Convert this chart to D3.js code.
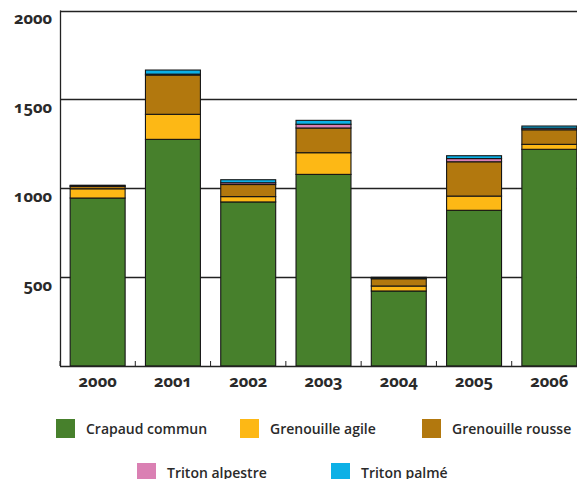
<!DOCTYPE html>
<html>
<head>
<meta charset="utf-8">
<script src="https://cdn.jsdelivr.net/npm/d3@7"></script>
<style>
  html, body { margin: 0; padding: 0; background: #fff; }
  svg { display: block; font-family: "Open Sans", "Noto Sans", sans-serif; font-variant-numeric: oldstyle-nums; }
</style>
</head>
<body>
<svg id="chart" width="577" height="479"></svg>
<script>
// Amphibian counts per year, stacked by species
const years = ["2000", "2001", "2002", "2003", "2004", "2005", "2006"];
const crapaudCommun = [945, 1275, 923, 1078, 422, 876, 1219];
const grenouilleAgile = [52, 141, 30, 122, 28, 80, 28];
const grenouilleRousse = [14, 221, 68, 139, 41, 193, 82];
const tritonAlpestre = [2, 5, 10, 21, 3, 18, 9];
const tritonPalme = [4, 23, 17, 22, 5, 16, 12];
const yTicks = [500, 1000, 1500, 2000];

const speciesNames = ["Crapaud commun", "Grenouille agile", "Grenouille rousse", "Triton alpestre", "Triton palmé"];
const speciesColors = ["#47802c", "#fdb815", "#b2780e", "#da80b3", "#0cb0e6"];
const speciesValues = [crapaudCommun, grenouilleAgile, grenouilleRousse, tritonAlpestre, tritonPalme];

const rows = years.map((yr, i) => {
  const r = { year: yr };
  speciesNames.forEach((s, k) => { r[s] = speciesValues[k][i]; });
  return r;
});
const stacked = d3.stack().keys(speciesNames)(rows);

const svg = d3.select("#chart");
const plotLeft = 60, plotRight = 587, plotTop = 10.5, plotBottom = 366;

const x = d3.scaleBand().domain(years).range([plotLeft, plotRight]).paddingInner(0.27).paddingOuter(0.135);
const y = d3.scaleLinear().domain([0, 2000]).range([plotBottom, plotTop]);

// horizontal reference lines
svg.append("g").selectAll("line").data(yTicks).join("line")
  .attr("x1", plotLeft).attr("x2", 577)
  .attr("y1", d => Math.round(y(d)) + 0.5).attr("y2", d => Math.round(y(d)) + 0.5)
  .attr("stroke", "#222").attr("stroke-width", 1.3);

// y labels sit just under their line
svg.append("g").selectAll("text").data(yTicks).join("text")
  .attr("x", 52).attr("y", d => y(d) + 13.5)
  .attr("text-anchor", "end")
  .attr("font-size", 16.5).attr("font-weight", 700).attr("fill", "#2a2a2a")
  .text(d => d);

// stacked bars
svg.append("g").selectAll("g").data(stacked).join("g")
  .attr("fill", (d, i) => speciesColors[i])
  .selectAll("rect").data(d => d).join("rect")
  .attr("x", d => x(d.data.year))
  .attr("width", x.bandwidth())
  .attr("y", d => y(d[1]))
  .attr("height", d => y(d[0]) - y(d[1]))
  .attr("stroke", "#151515").attr("stroke-width", 1.1);

// axes lines
svg.append("line").attr("x1", plotLeft + 0.5).attr("x2", plotLeft + 0.5).attr("y1", plotTop).attr("y2", plotBottom)
  .attr("stroke", "#222").attr("stroke-width", 1.3);
svg.append("line").attr("x1", plotLeft).attr("x2", plotRight).attr("y1", plotBottom + 0.5).attr("y2", plotBottom + 0.5)
  .attr("stroke", "#222").attr("stroke-width", 1.5);

// category separators on the base line
const step = x.step();
const seps = d3.range(years.length + 1).map(i => plotLeft + i * step);
svg.append("g").selectAll("line").data(seps).join("line")
  .attr("x1", d => d).attr("x2", d => d)
  .attr("y1", plotBottom - 5).attr("y2", plotBottom)
  .attr("stroke", "#222").attr("stroke-width", 1);

// year labels
svg.append("g").selectAll("text").data(years).join("text")
  .attr("x", d => x(d) + x.bandwidth() / 2).attr("y", 387)
  .attr("text-anchor", "middle")
  .attr("font-size", 16.5).attr("font-weight", 700).attr("fill", "#2a2a2a")
  .text(d => d);

// legend
const legendPos = [[56, 419], [240, 419], [422, 419], [137, 463], [331, 463]];
const lg = svg.append("g").selectAll("g").data(speciesNames).join("g")
  .attr("transform", (d, i) => `translate(${legendPos[i][0]},${legendPos[i][1]})`);
lg.append("rect").attr("width", 19).attr("height", 19).attr("fill", (d, i) => speciesColors[i]);
lg.append("text").attr("x", 30).attr("y", 14.5)
  .attr("font-size", 14).attr("font-weight", 600).attr("fill", "#2a2a2a")
  .text(d => d);
</script>
</body>
</html>
